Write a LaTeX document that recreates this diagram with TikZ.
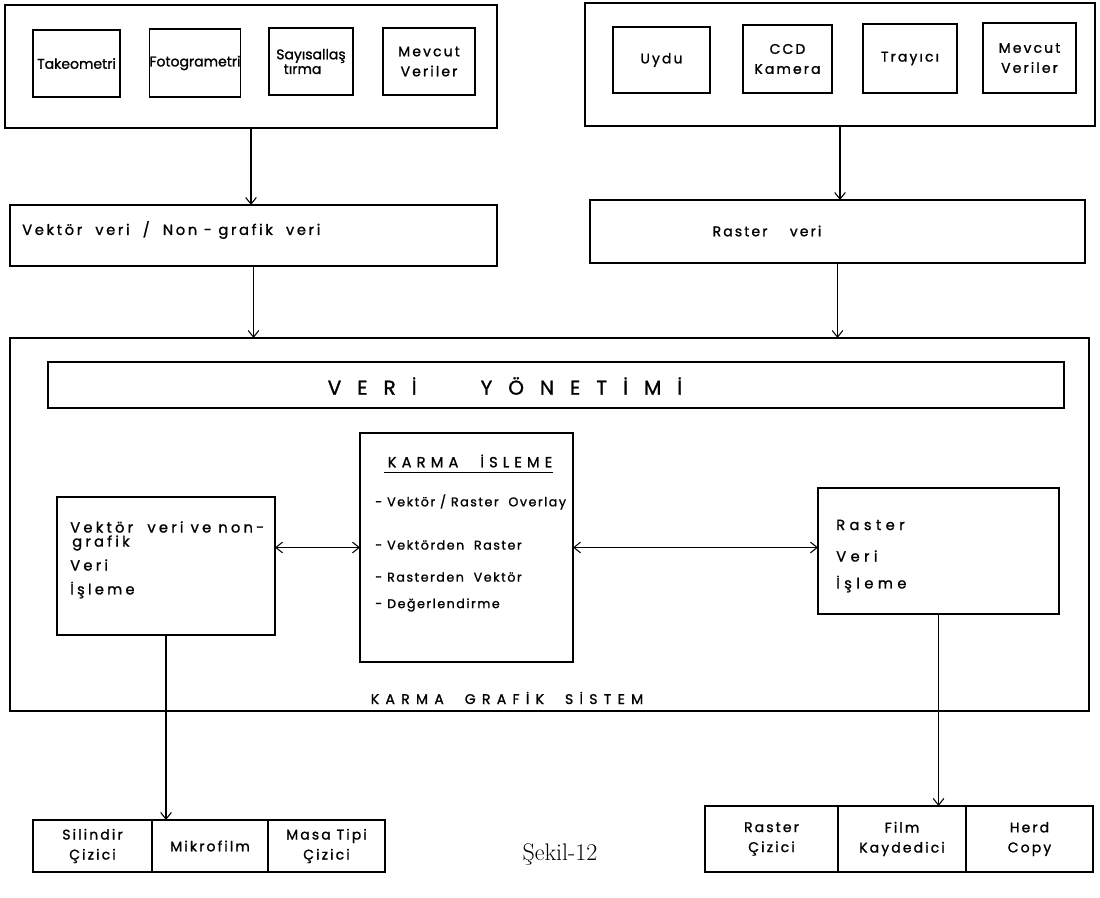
\documentclass[tikz,border=0pt]{standalone}
\usepackage{fontspec}
\usetikzlibrary{arrows.meta}
\newfontfamily\pf[FakeBold=1.2]{Poppins}
\tikzset{
  every node/.style={font=\pf\addfontfeatures{LetterSpace=15}\fontsize{10.5}{15}\selectfont},
  box/.style={draw, line width=1pt, inner sep=0pt, outer sep=0pt, align=center},
  tight/.style={font=\pf\fontsize{10.5}{13}\selectfont},
  item/.style={font=\pf\addfontfeatures{LetterSpace=12}\fontsize{9.5}{12}\selectfont},
  side/.style={font=\pf\addfontfeatures{LetterSpace=22}\fontsize{11}{13}\selectfont},
  wide/.style={font=\pf\addfontfeatures{LetterSpace=30}\fontsize{11}{13}\selectfont},
  txt/.style={inner sep=0pt, anchor=west, align=left},
  arr/.style={-{Straight Barb[length=5pt,width=8pt]}, line width=0.8pt},
  darr/.style={{Straight Barb[length=5pt,width=8pt]}-{Straight Barb[length=5pt,width=8pt]}, line width=0.8pt},
}
\newcommand\bx[7][]{\node[box,#1, minimum width={(#5-#3)*0.75pt}, minimum height={(#6-#4)*0.75pt}] (#2) at ({(#3+#5)/2},{(#4+#6)/2}) {#7};}
\begin{document}
\begin{tikzpicture}[x=0.75pt,y=-0.75pt]
\useasboundingbox (0,0) rectangle (1100,898);
% top left group
\bx{tl}{5}{5}{497}{128}{}
\bx[tight]{t1}{33}{30}{120}{97}{Takeometri}
\bx[tight]{t2}{153}{29}{237}{97}{Fotogrametri}
\bx[tight, align=left]{t3}{269}{28}{353}{95}{Sayısallaş\\[-2pt]\ \ tırma}
\bx{t4}{383}{28}{475}{95}{Mevcut\\Veriler}
% top right group
\bx{tr}{585}{3}{1095}{126}{}
\bx{u1}{613}{27}{710}{93}{Uydu}
\bx{u2}{743}{25}{832}{93}{CCD\\Kamera}
\bx{u3}{863}{24}{957}{93}{Trayıcı}
\bx{u4}{983}{23}{1076}{93}{Mevcut\\Veriler}
% data boxes
\bx{vek}{10}{205}{497}{266}{}
\node[txt, font=\pf\addfontfeatures{LetterSpace=18}\fontsize{11}{13}\selectfont] (vekt) at (22,230) {Vektör\ \ veri\ \ /\ \ Non - grafik\ \ veri};
\bx{ras}{590}{200}{1085}{263}{}
\node[inner sep=0pt] (rast) at (767,231) {Raster\hspace{1.6em}veri};
% big system box
\bx{big}{10}{338}{1089}{711}{}
\bx{vy}{48}{362}{1064}{408}{}
\node[inner sep=0pt, font=\pf\addfontfeatures{LetterSpace=80}\fontsize{15}{17}\selectfont] (vyt) at (505,386) {VERİ\hspace{3.2em}YÖNETİMİ};
\bx{km}{360}{433}{573}{662}{}
\node[inner sep=0pt, font=\pf\addfontfeatures{LetterSpace=35}\fontsize{11}{13}\selectfont] (kmt) at (470,461) {KARMA\hspace{1.5em}İSLEME};
\draw[line width=0.8pt] (kmt.south west) ++(-3,5) coordinate (ul1) -- (kmt.south east |- ul1);
\node[txt, item] (k1) at (375,502) {- Vektör / Raster\ \ Overlay};
\node[txt, item] (k2) at (375,545) {- Vektörden\ \ Raster};
\node[txt, item] (k3) at (375,577) {- Rasterden\ \ Vektör};
\node[txt, item] (k4) at (375,605) {- Değerlendirme};
\bx{lp}{57}{497}{275}{635}{}
\node[txt, side] (l1) at (70,527) {Vektör\ \ veri ve non-};
\node[txt, side] (l2) at (72,543) {grafik};
\node[txt, side] (l3) at (70,565) {Veri};
\node[txt, side] (l4) at (70,590) {İşleme};
\bx{rp}{818}{488}{1059}{614}{}
\node[txt, wide] (r1) at (836,525) {Raster};
\node[txt, wide] (r2) at (836,556) {Veri};
\node[txt, wide] (r3) at (836,584) {İşleme};
\node[inner sep=0pt, font=\pf\addfontfeatures{LetterSpace=45}\fontsize{10.5}{12}\selectfont] (kgs) at (507,698) {KARMA\hspace{1.5em}GRAFİK\hspace{1.5em}SİSTEM};
% output devices
\bx{b1}{33}{820}{152}{872}{Silindir\\Çizici}
\bx{b2}{152}{820}{268}{872}{Mikrofilm}
\bx{b3}{268}{820}{385}{872}{Masa Tipi\\Çizici}
\bx{c1}{705}{806}{838}{872}{Raster\\Çizici}
\bx{c2}{838}{806}{966}{872}{Film\\Kaydedici}
\bx{c3}{966}{806}{1093}{872}{Herd\\Copy}
\node[font=\rmfamily\fontsize{18}{20}\selectfont, inner sep=0pt] (cap) at (560,855) {Şekil-12};
% connectors
\draw[arr] (tl.south) -- (tl.south |- vek.north);
\draw[arr] (vek.south) -- (vek.south |- big.north);
\draw[arr] (tr.south) -- (tr.south |- ras.north);
\draw[arr] (ras.south) -- (ras.south |- big.north);
\draw[darr] (lp.east |- km.west) -- (km.west);
\draw[darr] (km.east) -- (km.east -| rp.west);
\draw[arr] (lp.south) -- (lp.south |- b2.north);
\draw[arr] (rp.south) -- (rp.south |- c2.north);
\end{tikzpicture}
\end{document}
